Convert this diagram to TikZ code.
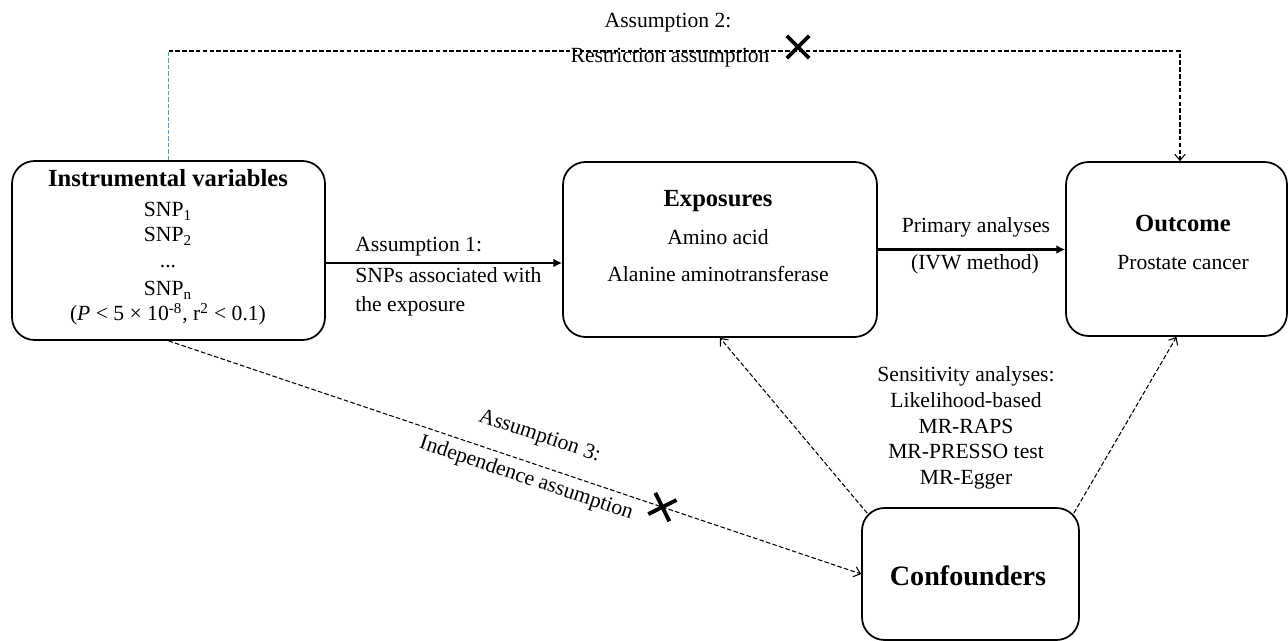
\documentclass[tikz,border=0pt]{standalone}
\usepackage{fontspec}
\setmainfont{Liberation Serif}
\usetikzlibrary{arrows.meta,positioning,shapes.misc,calc}

\begin{document}
\begin{tikzpicture}[x=0.02cm,y=-0.02cm,
box/.style={draw,line width=1pt,rounded corners=0.45cm,inner sep=0pt},
txt/.style={font=\fontsize{12.3}{14.7}\selectfont,inner sep=0pt},
title/.style={font=\fontsize{14}{16}\selectfont\bfseries,inner sep=0pt},
edge/.style={line width=1.5pt,-{Latex[length=5pt,width=5pt]}},
dash_edge/.style={line width=0.6pt,dash pattern=on 2.6pt off 1.3pt,-{Straight Barb[length=3.5pt,width=6pt]}},
blue_edge/.style={line width=0.8pt,draw={rgb,255:red,100;green,150;blue,190},dash pattern=on 2.6pt off 1.1pt},
cross/.style={draw,solid,cross out,line width=2.2pt,minimum size=0.37cm,inner sep=0pt}]
\useasboundingbox (0,0) rectangle (1288,641);
% boxes
\node(iv)[box,minimum width=6.26cm,minimum height=3.58cm] at (168.5,250.5) {};
\node(exp)[box,minimum width=6.28cm,minimum height=3.5cm] at (720,249.5) {};
\node(out)[box,minimum width=4.42cm,minimum height=3.48cm] at (1176.5,249) {};
\node(conf)[box,minimum width=4.34cm,minimum height=2.64cm] at (970.5,574) {};
% box texts
\node(ivt)[title,anchor=base] at (168,187) {Instrumental variables};
\node(ivs1)[txt,anchor=base] at (168,217) {SNP\textsubscript{1}};
\node(ivs2)[txt,anchor=base] at (168,242) {SNP\textsubscript{2}};
\node(ivdots)[txt,anchor=base] at (168,268) {...};
\node(ivsn)[txt,anchor=base] at (168,296) {SNP\textsubscript{n}};
\node(ivp)[txt,anchor=base] at (168,321) {(\textit{P} < 5 × 10\textsuperscript{-8}, r\textsuperscript{2} < 0.1)};
\node(expt)[title,anchor=base] at (718,207) {Exposures};
\node(exp1)[txt,anchor=base] at (718,245) {Amino acid};
\node(exp2)[txt,anchor=base] at (718,282) {Alanine aminotransferase};
\node(outt)[title,anchor=base] at (1183,232) {Outcome};
\node(out1)[txt,anchor=base] at (1183,270) {Prostate cancer};
\node(conft)[title,font=\fontsize{16}{19}\selectfont\bfseries,anchor=base] at (968,585) {Confounders};
\node(sens)[txt,align=center] at (966,428) {Sensitivity analyses:\\Likelihood-based\\MR-RAPS\\MR-PRESSO test\\MR-Egger};
% assumption 1 and primary analyses
\draw [edge] ([yshift=-0.25cm]iv.east) -- ([yshift=-0.25cm]iv.east -| exp.west);
\node(a1)[txt,anchor=base west] at (355,252) {Assumption 1:};
\node(a1b)[txt,anchor=base west] at (355,283) {SNPs associated with};
\node(a1c)[txt,anchor=base west] at (355,312) {the exposure};
\draw [edge] (exp.east) -- (exp.east -| out.west);
\node(pa)[txt,anchor=base] at (976,233) {Primary analyses};
\node(pb)[txt,anchor=base] at (975,270) {(IVW method)};
% assumption 2
\coordinate (tl) at (iv.north |- 0,51);
\coordinate (tr) at (1180,51);
\draw [blue_edge] (iv.north) -- (tl);
\draw [dash_edge] (tl) -- (tr) -- (tr |- out.north);
\node(a2)[txt,anchor=base] at (668,28) {Assumption 2:};
\node(a2b)[txt,anchor=base] at (670,63) {Restriction assumption};
\node(x2)[cross] at (798,47) {};
% assumption 3
\draw [dash_edge] (iv.south) -- (conf.west)
  node(a3)[txt,pos=0.523,sloped,above=10pt] {Assumption 3:}
  node(a3b)[txt,pos=0.524,sloped,below=3.5pt] {Independence assumption}
  node(x3)[cross,pos=0.713,sloped] {};
% confounders
\draw [dash_edge] ([shift={(6,6)}]conf.north west) -- (exp.south);
\draw [dash_edge] ([shift={(-6,6)}]conf.north east) -- (out.south);
\end{tikzpicture}
\end{document}
